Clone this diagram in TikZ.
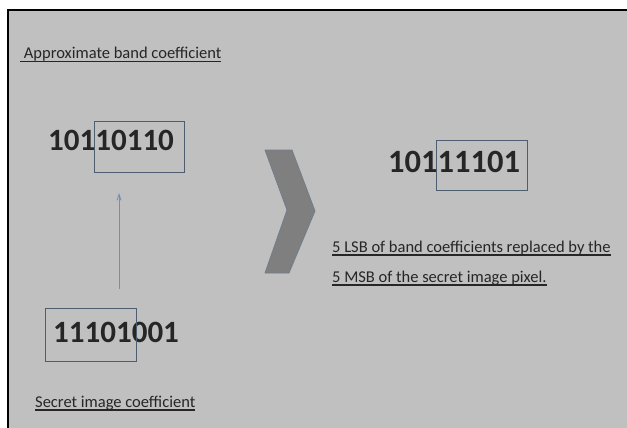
\documentclass[tikz,border=0pt]{standalone}
\usepackage{fontspec}
\setmainfont{Carlito}
\usetikzlibrary{arrows.meta}
\definecolor{slidegray}{HTML}{C0C0C0}
\definecolor{boxline}{HTML}{4E5E70}
\definecolor{arrowblue}{HTML}{6F8FB5}
\definecolor{chevgray}{HTML}{7F7F7F}
\newsavebox{\undlbox}
\newcommand{\undl}[1]{\sbox{\undlbox}{#1}\rlap{\rule[-3.5pt]{\wd\undlbox}{1.8pt}}\usebox{\undlbox}}

\begin{document}
\begin{tikzpicture}[
    x = 1pt, y = -1pt,
    label text/.style = {anchor = base west, inner sep = 0pt, text = black!85, font = \fontsize{16.5}{19}\selectfont},
    bits/.style = {anchor = base west, inner sep = 0pt, text = black!85, font = \fontsize{31}{36}\selectfont\bfseries},
    bitbox/.style = {draw = boxline, line width = 1pt, inner sep = 0pt, anchor = north west}
]
\useasboundingbox (0,0) rectangle (627,428);
\fill[slidegray] (8,10) rectangle (627,428);
\draw[line width = 2.5pt] (8,428) -- (8,10) -- (627,10);

\node[label text] (apxlabel) at (20,59) {\undl{ Approximate band coefficient}};
\node[bits] (apxbits) at (48,150) {10110110};
\node[bitbox, minimum width = 90pt, minimum height = 51pt] (apxbox) at (94,121) {};

\node[bits] (secbits) at (53,342) {11101001};
\node[bitbox, minimum width = 91pt, minimum height = 53pt] (secbox) at (45,308) {};
\node[label text] (seclabel) at (35,407) {\undl{Secret image coefficient}};

\node[bits, font = \fontsize{32.5}{36}\selectfont\bfseries] (stegbits) at (388,172) {10111101};
\node[bitbox, minimum width = 91pt, minimum height = 50pt] (stegbox) at (436,140) {};
\node[label text] (note1) at (332,252) {\undl{5 LSB of band coefficients replaced by the}};
\node[label text] (note2) at (332,282) {\undl{5 MSB of the secret image pixel.}};

% chevron
\draw[fill = chevgray, draw = boxline!80, line width = 0.8pt, line join = round]
(265,150) -- (292,150) -- (315,211) -- (289,273) -- (265,273) -- (287,210) -- cycle;

% arrows
\coordinate (arrbot) at (119,289);
\coordinate (arrtop) at (119,193);
\draw[arrowblue, line width = 0.8pt, -{Straight Barb[length = 6pt, width = 4pt]}] (arrbot) -- (arrtop);

\end{tikzpicture}
\end{document}
